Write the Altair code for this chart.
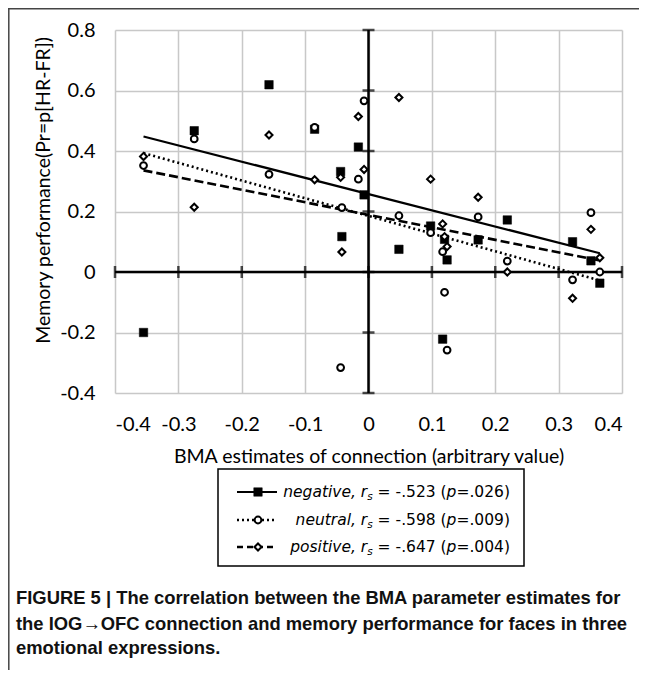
import altair as alt
import pandas as pd

# ---------------- data ----------------
bma = [-0.355, -0.275, -0.157, -0.085, -0.044, -0.042, -0.016, -0.007, 0.048,
       0.098, 0.117, 0.120, 0.124, 0.173, 0.219, 0.322, 0.351, 0.365]
neg = [-0.200, 0.467, 0.619, 0.472, 0.332, 0.117, 0.413, 0.255, 0.075,
       0.152, -0.222, 0.108, 0.040, 0.106, 0.172, 0.100, 0.037, -0.037]
neu = [0.352, 0.440, 0.323, 0.478, -0.316, 0.213, 0.307, 0.566, 0.186,
       0.130, 0.067, -0.067, -0.258, 0.182, 0.036, -0.026, 0.196, 0.000]
pos = [0.382, 0.214, 0.453, 0.305, 0.313, 0.066, 0.514, 0.339, 0.577,
       0.307, 0.159, 0.117, 0.084, 0.247, 0.000, -0.087, 0.141, 0.047]

# trend line end points
trend_x = [-0.355, 0.365]
trend_neg = [0.448, 0.062]
trend_neu = [0.393, -0.028]
trend_pos = [0.336, 0.038]

series_names = ["negative", "neutral", "positive"]
rs_values = [-0.523, -0.598, -0.647]
p_values = [0.026, 0.009, 0.004]

x_ticks = [-0.4, -0.3, -0.2, -0.1, 0.0, 0.1, 0.2, 0.3, 0.4]
y_ticks = [-0.4, -0.2, 0.0, 0.2, 0.4, 0.6, 0.8]

x_title = "BMA estimates of connection (arbitrary value)"
y_title = "Memory performance(Pr=p[HR-FR])"
caption = [
    "FIGURE 5 | The correlation between the BMA parameter estimates for",
    "the IOG\u2192OFC connection and memory performance for faces in three",
    "emotional expressions.",
]

# ---------------- layout ----------------
W, H = 507, 363
AXFONT = "Lato"
label_expr = ("datum.value == 0 ? '0' : (datum.value < 0 ? '-' : '') + "
              "format(abs(datum.value), '.1f')")


def xenc(field="x"):
    return alt.X(f"{field}:Q",
                 scale=alt.Scale(domain=[-0.4, 0.4], nice=False, zero=False),
                 axis=alt.Axis(values=x_ticks, title=x_title, labelExpr=label_expr,
                               grid=True, gridColor="#c8c8c8", gridWidth=1.5,
                               domain=False, ticks=False, tickSize=0,
                               labelPadding=21, labelFont=AXFONT, labelFontSize=20,
                               labelColor="#000", titleFont=AXFONT, titleFontSize=19.5,
                               titleFontWeight="normal", titleColor="#000",
                               titleX=W / 2, titleY=63, titleBaseline="middle",
                               titleAlign="center"))


def yenc(field="y"):
    return alt.Y(f"{field}:Q",
                 scale=alt.Scale(domain=[-0.4, 0.8], nice=False, zero=False),
                 axis=alt.Axis(values=y_ticks, title=y_title, labelExpr=label_expr,
                               grid=True, gridColor="#c8c8c8", gridWidth=1.5,
                               domain=False, ticks=False, tickSize=0,
                               labelPadding=20, labelFont=AXFONT, labelFontSize=20,
                               labelColor="#000", titleFont=AXFONT, titleFontSize=19.5,
                               titleFontWeight="normal", titleColor="#000",
                               titleX=-72, titleY=160, titleBaseline="middle",
                               titleAlign="center", titleAngle=-90))


layers = []

# zero axes
vaxis = pd.DataFrame({"x": [0.0], "y": [y_ticks[0]], "y2": [y_ticks[-1]]})
layers.append(alt.Chart(vaxis).mark_rule(color="black", strokeWidth=2.5).encode(
    x=xenc(), y=yenc(), y2="y2:Q"))
haxis = pd.DataFrame({"x": [x_ticks[0]], "x2": [x_ticks[-1]], "y": [0.0]})
layers.append(alt.Chart(haxis).mark_rule(color="black", strokeWidth=2.5).encode(
    x=xenc(), x2="x2:Q", y=yenc()))

vt = pd.DataFrame({"x": [0.0] * len(y_ticks), "y": y_ticks})
layers.append(alt.Chart(vt).mark_tick(orient="horizontal", size=12, thickness=2.5,
                                      color="black").encode(x=xenc(), y=yenc()))
ht = pd.DataFrame({"x": x_ticks, "y": [0.0] * len(x_ticks)})
layers.append(alt.Chart(ht).mark_tick(orient="vertical", size=12, thickness=2.5,
                                      color="black").encode(x=xenc(), y=yenc()))

# trend lines
styles = {
    "negative": dict(strokeWidth=2.2),
    "neutral": dict(strokeWidth=2.6, strokeDash=[2, 3]),
    "positive": dict(strokeWidth=2.6, strokeDash=[9, 4]),
}
for name, ty in zip(series_names, [trend_neg, trend_neu, trend_pos]):
    d = pd.DataFrame({"x": trend_x, "y": ty})
    layers.append(alt.Chart(d).mark_line(color="black", **styles[name]).encode(
        x=xenc(), y=yenc()))

# points
marks = {
    "negative": dict(shape="square", filled=True, fill="black", stroke="black",
                     strokeWidth=0.5, size=72, opacity=1),
    "neutral": dict(shape="circle", filled=True, fill="white", stroke="black",
                    strokeWidth=2, size=46, opacity=1),
    "positive": dict(shape="diamond", filled=True, fill="white", stroke="black",
                     strokeWidth=2, size=50, opacity=1),
}
for name, vals in zip(series_names, [neg, neu, pos]):
    d = pd.DataFrame({"x": bma, "y": vals})
    layers.append(alt.Chart(d).mark_point(**marks[name]).encode(x=xenc(), y=yenc()))

one = pd.DataFrame({"a": [0]})

# legend box
layers.append(alt.Chart(one).mark_rect(fill="white", stroke="black", strokeWidth=1.5).encode(
    x=alt.value(103), x2=alt.value(409), y=alt.value(439), y2=alt.value(536)))

# DejaVu Sans advance widths (per 1000 em)
adv = {" ": 318, "=": 838, "-": 361, ".": 318, "(": 390, ")": 390, "p": 635}
for c in "0123456789":
    adv[c] = 636


def tw(s, size):
    return sum(adv.get(ch, 600) for ch in s) * size / 1000.0


def fmt3(v):
    s = f"{abs(v):.3f}".lstrip("0")
    return ("-" if v < 0 else "") + s


R = 395
row_y = [462, 490, 517]
LF = "DejaVu Sans"
FS = 15.5
for i, name in enumerate(series_names):
    y0 = row_y[i]
    st = styles[name]
    legend_dash = {"negative": {}, "neutral": {"strokeDash": [2, 3]},
                   "positive": {"strokeDash": [6, 4]}}[name]
    layers.append(alt.Chart(one).mark_rule(color="black",
                                           strokeWidth=st["strokeWidth"],
                                           **legend_dash).encode(
        x=alt.value(122), x2=alt.value(162), y=alt.value(y0)))
    mk = dict(marks[name])
    layers.append(alt.Chart(one).mark_point(**mk).encode(
        x=alt.value(143), y=alt.value(y0)))

    segE = "=" + fmt3(p_values[i]) + ")"
    segD = "p"
    segC = " = " + fmt3(rs_values[i]) + " ("
    segS = "s"
    segA = name + ", r"
    xE = R
    xD = xE - tw(segE, FS)
    xC = xD - tw(segD, FS)
    xS = xC - tw(segC, FS)
    xA = xS - 521 * 10.5 / 1000.0
    for seg, xx, style, size, dy in [(segE, xE, "normal", FS, 0),
                                     (segD, xD, "italic", FS, 0),
                                     (segC, xC, "normal", FS, 0),
                                     (segS, xS, "italic", 10.5, 5),
                                     (segA, xA, "italic", FS, 0)]:
        layers.append(alt.Chart(one).mark_text(
            align="right", baseline="middle", font=LF, fontSize=size,
            fontStyle=style, color="black").encode(
            x=alt.value(xx), y=alt.value(y0 + dy), text=alt.value(seg)))

# caption
cap_y = [567.6, 593.5, 618.0]
for line, yy in zip(caption, cap_y):
    layers.append(alt.Chart(one).mark_text(
        align="left", baseline="middle", font="Liberation Sans", fontSize=18.4,
        fontWeight="bold", color="#111").encode(
        x=alt.value(-99), y=alt.value(yy), text=alt.value(line)))

# frame lines (top and left)
layers.append(alt.Chart(one).mark_rule(color="#444", strokeWidth=1.5).encode(
    x=alt.value(-106.2), y=alt.value(-22), y2=alt.value(640)))
layers.append(alt.Chart(one).mark_rule(color="#444", strokeWidth=1.5).encode(
    x=alt.value(-107), x2=alt.value(524), y=alt.value(-21.2)))

chart = alt.layer(*layers).properties(
    width=W, height=H,
    padding={"left": 107, "top": 22, "right": 17, "bottom": 277},
    autosize=alt.AutoSizeParams(type="none"),
    background="white",
).configure_view(stroke=None)

chart.save("out.html", embed_options={"renderer": "svg", "actions": False})
